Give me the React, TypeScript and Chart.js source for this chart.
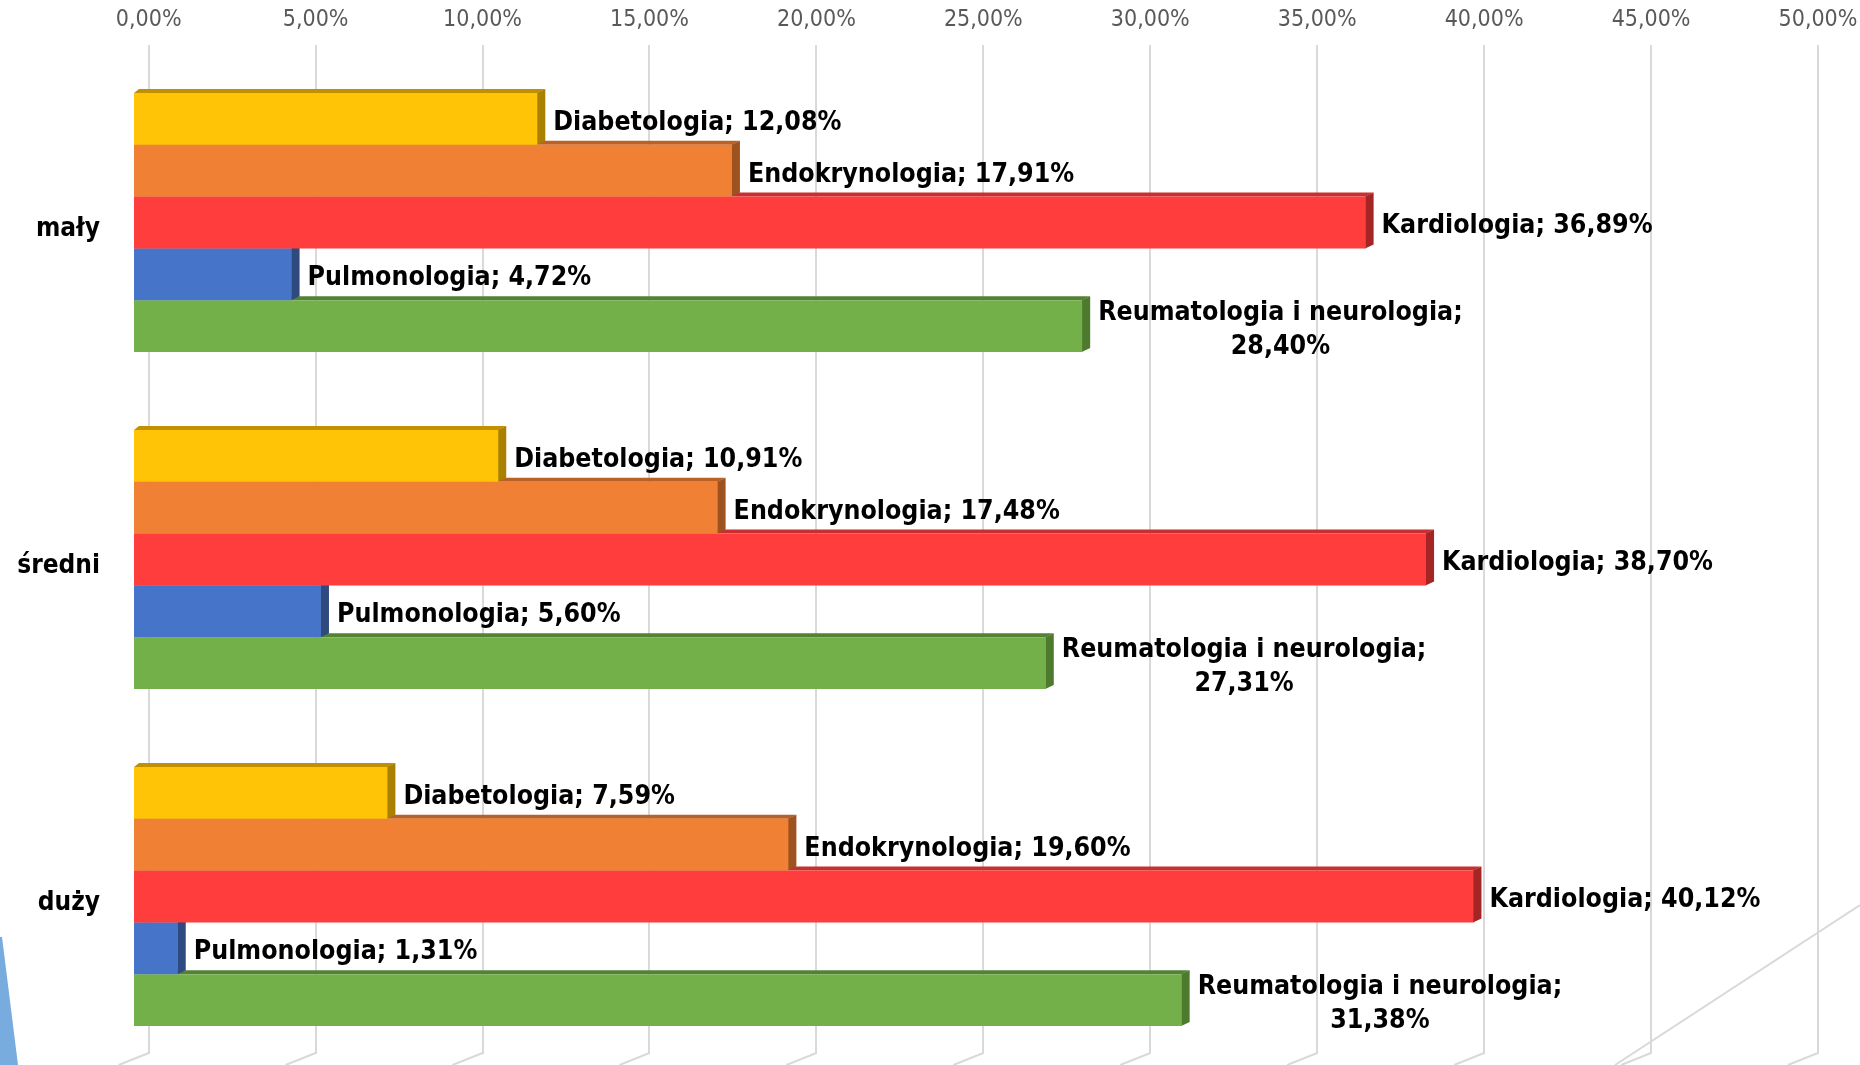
import React, { useEffect, useRef } from "react";
import { Chart, registerables } from "chart.js";

Chart.register(...registerables);

// ---- data ----
const categories = ["mały", "średni", "duży"];
const seriesNames = [
  "Diabetologia",
  "Endokrynologia",
  "Kardiologia",
  "Pulmonologia",
  "Reumatologia i neurologia",
];
const diabetologia = [12.08, 10.91, 7.59];
const endokrynologia = [17.91, 17.48, 19.6];
const kardiologia = [36.89, 38.7, 40.12];
const pulmonologia = [4.72, 5.6, 1.31];
const reumatologia = [28.4, 27.31, 31.38];
const tickValues = [0, 5, 10, 15, 20, 25, 30, 35, 40, 45, 50];

// ---- styles ----
const frontColors = ["#FFC405", "#F08033", "#FF3D3D", "#4674C8", "#74B04A"];
const topColors = ["#C09000", "#BA6128", "#C83030", "#2F5597", "#548235"];
const sideColors = ["#A98000", "#9E5220", "#A52424", "#2E4A7E", "#4E7A2E"];

const FONT = "'DejaVu Sans Condensed', 'DejaVu Sans', sans-serif";
const DEPTH_X = 8;
const DEPTH_Y = 4;

const fmt = (v: number) => v.toFixed(2).replace(".", ",") + "%";

const depthPlugin = {
  id: "depth3d",
  beforeDatasetsDraw(chart: any) {
    const ctx = chart.ctx;
    const area = chart.chartArea;
    const xScale = chart.scales.x;
    ctx.save();
    // floor / bottom edge decoration
    const floorY = area.bottom - 12;
    ctx.fillStyle = "#ffffff";
    ctx.fillRect(area.left + 1, floorY + 1, area.right - area.left + 20, area.bottom - floorY + 2);
    ctx.strokeStyle = "#d9d9d9";
    ctx.lineWidth = 2;
    tickValues.forEach((v) => {
      const px = xScale.getPixelForValue(v);
      ctx.beginPath();
      ctx.moveTo(px, floorY);
      ctx.lineTo(px - 30, floorY + 12);
      ctx.stroke();
    });
    ctx.beginPath();
    ctx.moveTo(chart.width, area.bottom - 160);
    ctx.lineTo(chart.width - 245, area.bottom);
    ctx.stroke();

    // top faces
    chart.data.datasets.forEach((ds: any, di: number) => {
      const meta = chart.getDatasetMeta(di);
      meta.data.forEach((el: any) => {
        const p = el.getProps(["x", "y", "base", "height"], true);
        const top = p.y - p.height / 2;
        ctx.fillStyle = topColors[di];
        ctx.beginPath();
        ctx.moveTo(p.base, top);
        ctx.lineTo(p.base + 5, top - DEPTH_Y);
        ctx.lineTo(p.x + DEPTH_X, top - DEPTH_Y);
        ctx.lineTo(p.x, top);
        ctx.closePath();
        ctx.fill();
      });
    });
    // side faces
    chart.data.datasets.forEach((ds: any, di: number) => {
      const meta = chart.getDatasetMeta(di);
      meta.data.forEach((el: any) => {
        const p = el.getProps(["x", "y", "base", "height"], true);
        const top = p.y - p.height / 2;
        const bottom = p.y + p.height / 2;
        ctx.fillStyle = sideColors[di];
        ctx.beginPath();
        ctx.moveTo(p.x - 0.5, top);
        ctx.lineTo(p.x + DEPTH_X, top - DEPTH_Y);
        ctx.lineTo(p.x + DEPTH_X, bottom - DEPTH_Y);
        ctx.lineTo(p.x - 0.5, bottom);
        ctx.closePath();
        ctx.fill();
      });
    });
    ctx.restore();
  },
  afterDatasetsDraw(chart: any) {
    const ctx = chart.ctx;
    ctx.save();
    ctx.font = `bold 26.5px ${FONT}`;
    ctx.fillStyle = "#000000";
    ctx.textBaseline = "middle";
    chart.data.datasets.forEach((ds: any, di: number) => {
      const meta = chart.getDatasetMeta(di);
      meta.data.forEach((el: any, i: number) => {
        const p = el.getProps(["x", "y"], true);
        const val = fmt(ds.data[i]);
        const full = ds.label + "; " + val;
        const w = ctx.measureText(full).width;
        const lx = p.x + 16;
        if (w > 400) {
          const l1 = ds.label + ";";
          const w1 = ctx.measureText(l1).width;
          ctx.textAlign = "center";
          ctx.fillText(l1, lx + w1 / 2, p.y - 13);
          ctx.fillText(val, lx + w1 / 2, p.y + 21);
        } else {
          ctx.textAlign = "left";
          ctx.fillText(full, lx, p.y + 4);
        }
      });
    });
    // slide decoration (blue shape bottom-left)
    ctx.fillStyle = "#78ACDF";
    ctx.beginPath();
    ctx.moveTo(0, chart.height - 128);
    ctx.lineTo(2, chart.height - 128);
    ctx.lineTo(18, chart.height);
    ctx.lineTo(0, chart.height);
    ctx.closePath();
    ctx.fill();
    ctx.restore();
  },
};

export default function App() {
  const canvasRef = useRef<HTMLCanvasElement | null>(null);

  useEffect(() => {
    if (!canvasRef.current) return;
    const seriesData = [diabetologia, endokrynologia, kardiologia, pulmonologia, reumatologia];
    const chart = new Chart(canvasRef.current, {
      type: "bar",
      data: {
        labels: categories,
        datasets: seriesNames.map((name, i) => ({
          label: name,
          data: seriesData[i],
          backgroundColor: frontColors[i],
          borderWidth: 0,
          xAxisID: "xb",
          yAxisID: "y",
          barPercentage: 1,
          categoryPercentage: 0.7686,
        })),
      },
      options: {
        indexAxis: "y",
        animation: false,
        responsive: false,
        maintainAspectRatio: false,
        layout: { autoPadding: false, padding: { left: 0, right: 42, top: 0, bottom: 0 } },
        plugins: {
          legend: { display: false },
          tooltip: { enabled: false },
          title: { display: false },
        },
        scales: {
          x: {
            type: "linear",
            position: "top",
            min: -0.44,
            max: 50,
            afterBuildTicks: (scale: any) => {
              scale.ticks = tickValues.map((v) => ({ value: v }));
            },
            afterFit: (scale: any) => {
              scale.height = 54;
              scale.paddingLeft = 0;
              scale.paddingRight = 0;
            },
            grid: {
              display: true,
              color: "#d9d9d9",
              lineWidth: 2,
              drawTicks: true,
              tickLength: 9,
            },
            border: { display: false },
            ticks: {
              padding: 11,
              color: "#595959",
              font: { family: FONT, size: 23 },
              callback: (v: any) => fmt(Number(v)),
            },
          },
          xb: {
            type: "linear",
            display: false,
            position: "top",
            min: 0,
            max: 50.44,
          },
          y: {
            type: "category",
            position: "left",
            afterFit: (scale: any) => {
              scale.width = 134;
              scale.paddingTop = 0;
              scale.paddingBottom = 0;
            },
            grid: { display: false, drawTicks: false },
            border: { display: false },
            ticks: {
              padding: 34,
              labelOffset: 7,
              color: "#000000",
              font: { family: FONT, size: 26, weight: "bold" },
            },
          },
        },
      },
      plugins: [depthPlugin],
    } as any);
    return () => chart.destroy();
  }, []);

  return (
    <div style={{ position: "absolute", left: 0, top: 0, width: 1860, height: 1065, background: "#ffffff" }}>
      <canvas ref={canvasRef} width={1860} height={1065} style={{ display: "block" }} />
    </div>
  );
}
